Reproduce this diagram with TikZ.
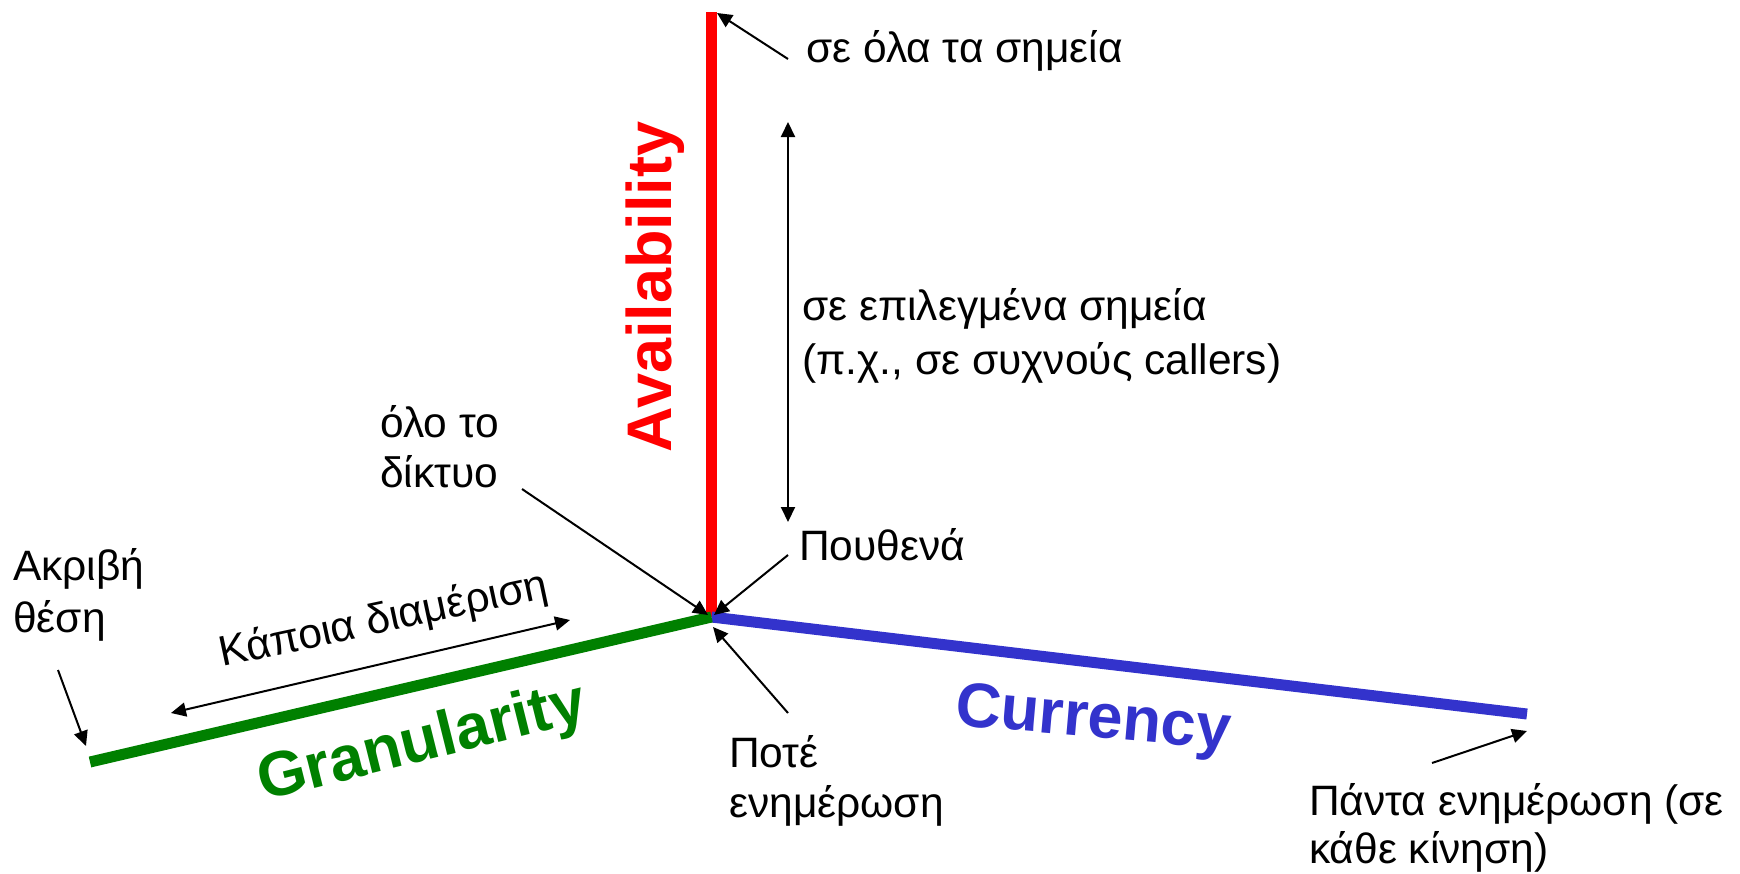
\documentclass[tikz,border=0pt]{standalone}
\usepackage{fontspec}
\setmainfont{Liberation Sans}
\usetikzlibrary{arrows.meta}
\definecolor{availred}{RGB}{255,0,0}
\definecolor{granugreen}{RGB}{0,128,0}
\definecolor{currblue}{RGB}{51,51,204}
\tikzset{
  axis/.style={
    line width = 11pt
  },
  pointer/.style={
    line width = 2pt,
    -{Triangle[length=15pt,width=14pt]}
  },
  twoway/.style={
    line width = 2pt,
    {Triangle[length=15pt,width=14pt]}-{Triangle[length=15pt,width=14pt]}
  },
  remark/.style={
    inner sep = 0pt,
    anchor = base west,
    align = left,
    font = \fontsize{42.5}{50}\selectfont
  },
  axisname/.style={
    inner sep = 0pt,
    font = \fontsize{63}{70}\selectfont\bfseries
  }
}

\begin{document}
\begin{tikzpicture}[x=1pt,y=-1pt]
  \useasboundingbox (0,0) rectangle (1740,873);
  % the three axes
  \coordinate (o) at (711.5,617);
  \coordinate (atop) at (711.5,12);
  \coordinate (gend) at (90,762);
  \coordinate (cend) at (1527,714);
  \draw[axis,availred] (o) -- (atop);
  \draw[axis,currblue] (o) -- (cend);
  \draw[axis,granugreen] (o) -- (gend);
  \node[axisname,availred,rotate=90,anchor=base] (avail) at (671,287) {Availability};
  \node[axisname,granugreen,rotate=14,anchor=base west] (gran) at (263,801) {Granularity};
  \node[axisname,currblue,rotate=-5,anchor=base west] (curr) at (954,725) {Currency};
  % remarks (base = last line)
  \node[remark] (allpts) at (806,62) {σε όλα τα σημεία};
  \node[remark,font=\fontsize{42.5}{54}\selectfont] (somepts) at (802,374) {σε επιλεγμένα σημεία\\(π.χ., σε συχνούς callers)};
  \node[remark] (nowhere) at (799,560) {Πουθενά};
  \node[remark] (whole) at (380,487) {όλο το\\δίκτυο};
  \node[remark,font=\fontsize{42.5}{52}\selectfont] (exact) at (13,632) {Ακριβή\\θέση};
  \node[remark,rotate=12] (part) at (222,667) {Κάποια διαμέριση};
  \node[remark] (never) at (729,817) {Ποτέ\\ενημέρωση};
  \node[remark,font=\fontsize{42.5}{48}\selectfont] (always) at (1309,863) {Πάντα ενημέρωση (σε\\κάθε κίνηση)};
  % arrow ends
  \coordinate (allpts-t) at (788,59);   \coordinate (allpts-h) at (717,13);
  \coordinate (range-a) at (788,122);   \coordinate (range-b) at (788,522);
  \coordinate (whole-t) at (522,489);   \coordinate (whole-h) at (708,615);
  \coordinate (nowhere-t) at (788,555); \coordinate (nowhere-h) at (714,615);
  \coordinate (never-t) at (788,713);   \coordinate (never-h) at (713,627);
  \coordinate (part-a) at (171,713);    \coordinate (part-b) at (570,620);
  \coordinate (exact-t) at (58,670);    \coordinate (exact-h) at (86,746);
  \coordinate (always-t) at (1432,763); \coordinate (always-h) at (1527,731);
  \foreach \n in {allpts,whole,nowhere,never,exact,always}
    \draw[pointer] (\n-t) -- (\n-h);
  \draw[twoway] (range-a) -- (range-b);
  \draw[twoway] (part-a) -- (part-b);
\end{tikzpicture}
\end{document}
